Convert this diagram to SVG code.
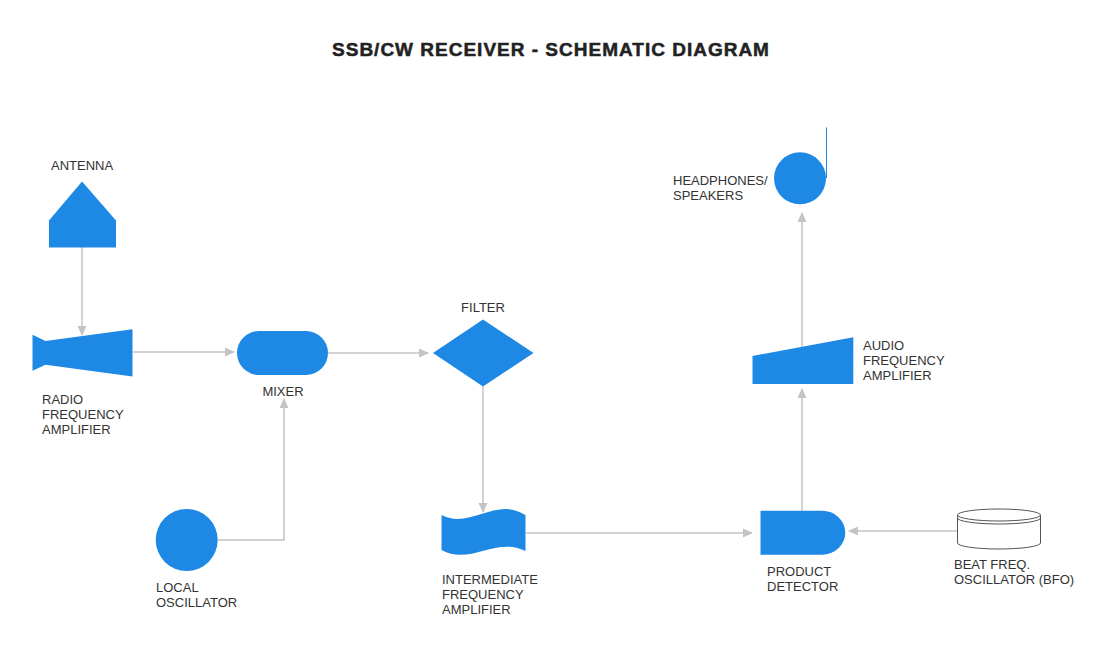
<svg xmlns="http://www.w3.org/2000/svg" width="1105" height="669" viewBox="0 0 1105 669">
<defs>
<style>
.n{fill:#1E88E5;}
.t{font-family:"Liberation Sans",Arial,sans-serif;font-size:13px;fill:#333333;}
.title{font-family:"Liberation Sans",Arial,sans-serif;font-size:19px;font-weight:bold;fill:#222222;stroke:#222222;stroke-width:0.5;letter-spacing:1px;}
.c{fill:none;stroke:#c4c4c4;stroke-width:1.5;}
</style>
<marker id="ah" markerWidth="10" markerHeight="10" refX="9" refY="5" orient="auto" markerUnits="userSpaceOnUse">
<path d="M0,0.5 L10,5 L0,9.5 Z" fill="#c4c4c4"/>
</marker>
</defs>
<rect width="1105" height="669" fill="#ffffff"/>
<text class="title" x="551" y="56" text-anchor="middle">SSB/CW RECEIVER - SCHEMATIC DIAGRAM</text>

<g id="connectors">
<path class="c" d="M82,247 V335" marker-end="url(#ah)"/>
<path class="c" d="M133,352 H234" marker-end="url(#ah)"/>
<path class="c" d="M328,353 H428" marker-end="url(#ah)"/>
<path class="c" d="M483,386 V512" marker-end="url(#ah)"/>
<path class="c" d="M526,533 H752" marker-end="url(#ah)"/>
<path class="c" d="M802,511 V389" marker-end="url(#ah)"/>
<path class="c" d="M802,347 V213" marker-end="url(#ah)"/>
<path class="c" d="M218,540 H284 V399" marker-end="url(#ah)"/>
<path class="c" d="M957,531 H849" marker-end="url(#ah)"/>
</g>

<g id="antenna">
<polygon class="n" points="82,181.5 116,220.5 116,247.5 49,247.5 49,220.5"/>
<text class="t" x="51" y="170">ANTENNA</text>
</g>

<g id="rf-amplifier">
<polygon class="n" points="32.5,334.7 45.5,341 132.5,329.3 132.5,376.5 45.5,364.7 32.5,370.7"/>
<text class="t" x="42" y="404">RADIO</text>
<text class="t" x="42" y="419">FREQUENCY</text>
<text class="t" x="42" y="434">AMPLIFIER</text>
</g>

<g id="mixer">
<rect class="n" x="237" y="331" width="91" height="44" rx="22" ry="22"/>
<text class="t" x="283" y="396" text-anchor="middle">MIXER</text>
</g>

<g id="filter">
<polygon class="n" points="483,319.5 533.5,353 483,386.5 433,353"/>
<text class="t" x="483" y="312" text-anchor="middle">FILTER</text>
</g>

<g id="local-oscillator">
<circle class="n" cx="186.7" cy="540" r="31"/>
<text class="t" x="156" y="592">LOCAL</text>
<text class="t" x="156" y="607">OSCILLATOR</text>
</g>

<g id="if-amplifier">
<path class="n" d="M441.5,515 C470,530 496,496 525.5,515 V551 C496,536 470,566 441.5,550 Z"/>
<text class="t" x="442" y="584">INTERMEDIATE</text>
<text class="t" x="442" y="599">FREQUENCY</text>
<text class="t" x="442" y="614">AMPLIFIER</text>
</g>

<g id="product-detector">
<path class="n" d="M760.5,510.7 H822 A23.3,22 0 0 1 822,554.7 H760.5 Z"/>
<text class="t" x="767" y="576">PRODUCT</text>
<text class="t" x="767" y="591">DETECTOR</text>
</g>

<g id="bfo">
<path d="M957.5,515 V543 A41.5,6 0 0 0 1040.5,543 V515" fill="#ffffff" stroke="#555555" stroke-width="1"/>
<ellipse cx="999" cy="515" rx="41.5" ry="6" fill="#ffffff" stroke="#555555" stroke-width="1"/>
<path d="M957.5,518 A41.5,6 0 0 0 1040.5,518" fill="none" stroke="#555555" stroke-width="1"/>
<text class="t" x="954" y="569">BEAT FREQ.</text>
<text class="t" x="954" y="584">OSCILLATOR (BFO)</text>
</g>

<g id="audio-amplifier">
<polygon class="n" points="752.5,356 853.3,337.3 853.3,384 752.5,384"/>
<text class="t" x="863" y="350">AUDIO</text>
<text class="t" x="863" y="365">FREQUENCY</text>
<text class="t" x="863" y="380">AMPLIFIER</text>
</g>

<g id="headphones">
<circle class="n" cx="800" cy="178.3" r="26"/>
<line x1="826.5" y1="178" x2="826.5" y2="127.5" stroke="#1E88E5" stroke-width="1"/>
<text class="t" x="673" y="185">HEADPHONES/</text>
<text class="t" x="673" y="200">SPEAKERS</text>
</g>
</svg>
